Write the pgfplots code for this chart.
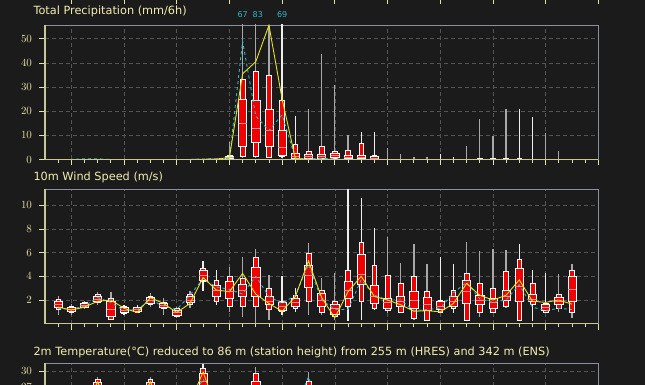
\documentclass[border=0pt]{standalone}
\usepackage{fontspec}
\setmainfont{DejaVu Sans}
\usepackage{pgfplots}
\pgfplotsset{compat=1.18}
\usepgfplotslibrary{statistics}

\definecolor{bg}{HTML}{1B1B1B}
\definecolor{titlecol}{HTML}{F2EEB0}
\definecolor{ticklbl}{HTML}{E6E2A6}
\definecolor{axleft}{HTML}{C8C896}
\definecolor{framecol}{HTML}{8A90A0}
\definecolor{gridcol}{HTML}{555555}
\definecolor{hres}{HTML}{E8E020}
\definecolor{ctrl}{HTML}{30B8C8}
\definecolor{whg}{HTML}{A8A8A8}
\definecolor{whw}{HTML}{EEEEEE}
\definecolor{boxred}{HTML}{F00000}

% step, min, p10, p25, median, p75, p90, max, whisker colour
\newcommand\ebox[9]{%
 \addplot[draw=white, fill=boxred, boxplot prepared={draw direction=y, draw position=#1, lower whisker=#2, lower quartile=#3, median=#5, upper quartile=#7, upper whisker=#8, box extend=0.36, whisker extend=0, every whisker/.style={draw=#9, line width=1.3pt}, every box/.style={draw=white, fill=boxred, line width=0.6pt}, every median/.style={draw=none}}] coordinates {};
 \addplot[draw=white, fill=boxred, boxplot prepared={draw direction=y, draw position=#1, lower whisker=#4, lower quartile=#4, median=#5, upper quartile=#6, upper whisker=#6, box extend=0.62, whisker extend=0, every whisker/.style={draw=none}, every box/.style={draw=white, fill=boxred, line width=0.6pt}, every median/.style={draw=white!55!boxred, line width=0.5pt}}] coordinates {};
}

\pgfplotsset{mp/.style={
  anchor=south west, width=553.3pt, scale only axis, xmin=0, xmax=42,
  xtick={2,6,...,42}, minor xtick={1,...,41}, xticklabels={},
  tick pos=left, tick align=outside,
  major tick length=6pt, minor tick length=3.5pt,
  tick style={ticklbl, line width=0.8pt},
  xmajorgrids, ymajorgrids,
  major grid style={gridcol, dash pattern=on 4pt off 3pt, line width=0.6pt},
  axis line style={framecol, line width=0.8pt},
  ticklabel style={font=\fontsize{11}{13}\selectfont, text=ticklbl},
  yticklabel style={xshift=-3.5pt},
  clip mode=individual,
  after end axis/.code={\draw[axleft, line width=1.3pt] (rel axis cs:0,1) -- (rel axis cs:0,0) -- (rel axis cs:1,0);}
}}

\begin{document}
\begin{tikzpicture}
\useasboundingbox (0pt,0pt) rectangle (645pt,385pt);
\fill[bg] (0pt,0pt) rectangle (645pt,385pt);

% ---------------- Precipitation ----------------
\node[anchor=base west, text=titlecol, font=\fontsize{11.3}{13}\selectfont] at (30pt,370pt) {Total Precipitation (mm/6h)};
\begin{axis}[mp, at={(45pt,225.5pt)}, height=134.5pt, ymin=0, ymax=55.7, ytick={0,10,...,50}]
\ebox{14}{0}{0.2}{0.4}{0.8}{1.5}{1.9}{7.4}{whg}
\ebox{15}{0.5}{1.2}{5.6}{15}{25}{33.3}{67}{whg}
\ebox{16}{0.8}{1.5}{7}{13}{24.7}{36.4}{83}{whg}
\ebox{17}{0.5}{0.9}{5.3}{12}{20.8}{35}{55.5}{whg}
\ebox{18}{0.5}{1.5}{1.9}{5}{12.2}{24.7}{69}{whw}
\ebox{19}{0}{0.3}{0.7}{1.2}{2.4}{6.4}{18}{whw}
\ebox{20}{0}{0.2}{0.5}{1.2}{2.1}{3.2}{20.8}{whg}
\ebox{21}{0}{0.3}{0.6}{1.2}{2.3}{5.3}{43.6}{whg}
\ebox{22}{0}{0.4}{0.9}{1.6}{2.6}{3.2}{30.9}{whg}
\ebox{23}{0}{0.2}{0.4}{0.9}{1.9}{3.9}{10.2}{whg}
\ebox{24}{0}{0.1}{0.3}{0.8}{1.6}{6.7}{11.5}{whw}
\ebox{25}{0}{0}{0.3}{0.6}{1.2}{1.9}{11.5}{whw}
\ebox{26}{0}{0}{0}{0}{0}{0.2}{4.6}{whg}
\ebox{27}{0}{0}{0}{0}{0}{0.1}{2.3}{whg}
\ebox{28}{0}{0}{0}{0}{0}{0.1}{0.9}{whg}
\ebox{29}{0}{0}{0}{0}{0}{0.1}{1.2}{whg}
\ebox{30}{0}{0}{0}{0}{0}{0.1}{2.3}{whw}
\ebox{31}{0}{0}{0}{0}{0}{0.1}{1.2}{whw}
\ebox{32}{0}{0}{0}{0}{0}{0.2}{5.6}{whg}
\ebox{33}{0}{0}{0}{0}{0}{0.3}{16.7}{whg}
\ebox{34}{0}{0}{0}{0}{0}{0.3}{9.8}{whg}
\ebox{35}{0}{0}{0}{0}{0}{0.3}{21}{whg}
\ebox{36}{0}{0}{0}{0}{0}{0.3}{21}{whw}
\ebox{37}{0}{0}{0}{0}{0}{0.2}{17.5}{whw}
\ebox{38}{0}{0}{0}{0}{0}{0.2}{11.1}{whg}
\ebox{39}{0}{0}{0}{0}{0}{0.1}{3.7}{whg}
\addplot[ctrl, dashed, line width=0.9pt] coordinates {(1,0)(2,0)(3,0.3)(4,0.3)(5,0)(6,0)(7,0)(8,0)(9,0)(10,0)(11,0)(12,0.2)(13,0.3)(14,0.5)(15,49)(16,18)(17,12)(18,18.5)(19,0.5)(20,0.2)(21,0.5)(22,0.3)(23,0)(24,0)(25,0)(26,0)(27,0)(28,0)(29,0)(30,0)(31,0)(32,0)(33,0)(34,0)(35,0)(36,0)(37,0)(38,0)(39,0)(40,0)};
\addplot[hres, line width=0.9pt] coordinates {(1,0)(2,0)(3,0)(4,0)(5,0)(6,0)(7,0)(8,0)(9,0)(10,0)(11,0)(12,0.1)(13,0.2)(14,0.8)(15,35.5)(16,40.5)(17,55.6)(18,25)(19,0.5)(20,0)(21,0.1)(22,0)(23,0)(24,0)(25,0)(26,0)(27,0)(28,0)(29,0)(30,0)(31,0)(32,0)(33,0)(34,0)(35,0)(36,0)(37,0)(38,0)(39,0)(40,0)};
\node[anchor=base, text=ctrl, font=\fontsize{8}{9}\selectfont] at (axis cs:15,58.7) {67};
\node[anchor=base, text=ctrl, font=\fontsize{8}{9}\selectfont] at (axis cs:16.15,58.7) {83};
\node[anchor=base, text=ctrl, font=\fontsize{8}{9}\selectfont] at (axis cs:18,58.7) {69};
\end{axis}

% ---------------- Wind ----------------
\node[anchor=base west, text=titlecol, font=\fontsize{11.3}{13}\selectfont] at (30pt,204pt) {10m Wind Speed (m/s)};
\begin{axis}[mp, at={(45pt,61.3pt)}, height=134.7pt, ymin=0, ymax=11.37, ytick={2,4,...,10}]
\ebox{1}{0.75}{1.2}{1.4}{1.6}{1.85}{2.1}{2.3}{whg}
\ebox{2}{0.75}{1.0}{1.05}{1.25}{1.4}{1.45}{1.7}{whg}
\ebox{3}{1.2}{1.35}{1.4}{1.55}{1.75}{1.8}{1.95}{whg}
\ebox{4}{1.6}{1.8}{1.9}{2.1}{2.3}{2.45}{2.7}{whg}
\ebox{5}{0.3}{0.4}{0.6}{1.2}{1.85}{2.15}{2.7}{whg}
\ebox{6}{0.75}{0.85}{0.95}{1.15}{1.35}{1.45}{1.6}{whw}
\ebox{7}{0.9}{1.0}{1.05}{1.2}{1.35}{1.4}{1.6}{whw}
\ebox{8}{1.45}{1.6}{1.75}{2.0}{2.2}{2.35}{2.6}{whg}
\ebox{9}{0.75}{1.3}{1.4}{1.55}{1.7}{1.8}{2.2}{whg}
\ebox{10}{0.45}{0.6}{0.75}{0.95}{1.15}{1.3}{1.45}{whg}
\ebox{11}{1.3}{1.65}{1.8}{2.0}{2.3}{2.45}{2.75}{whg}
\ebox{12}{2.75}{3.55}{3.7}{4.1}{4.5}{4.7}{5.3}{whw}
\ebox{13}{1.6}{1.85}{2.3}{2.8}{3.25}{3.7}{4.5}{whw}
\ebox{14}{1.0}{1.45}{2.15}{2.7}{3.55}{4.0}{4.8}{whg}
\ebox{15}{0.6}{1.45}{2.3}{2.8}{3.3}{3.8}{5.6}{whg}
\ebox{16}{0.1}{1.5}{2.3}{3.9}{4.8}{5.6}{6.3}{whg}
\ebox{17}{0.3}{1.2}{1.6}{1.9}{2.3}{3.0}{4.1}{whg}
\ebox{18}{0.75}{1.05}{1.15}{1.5}{1.8}{1.9}{4.0}{whw}
\ebox{19}{1.0}{1.3}{1.5}{1.8}{2.15}{2.4}{3.0}{whw}
\ebox{20}{0.75}{1.85}{3.1}{4.1}{4.95}{5.95}{6.8}{whg}
\ebox{21}{0.7}{1.0}{1.45}{2.0}{2.55}{2.85}{3.85}{whg}
\ebox{22}{0.3}{0.6}{0.8}{1.3}{1.6}{1.9}{4.25}{whg}
\ebox{23}{0.2}{1.45}{2.15}{2.8}{3.55}{4.5}{11.4}{whw}
\ebox{24}{0.3}{1.85}{3.3}{4.2}{5.85}{6.9}{10.6}{whw}
\ebox{25}{1.15}{1.3}{1.7}{2.3}{3.25}{4.9}{8.05}{whw}
\ebox{26}{0.9}{1.15}{1.3}{1.8}{2.15}{4.1}{7.3}{whg}
\ebox{27}{0.9}{1.0}{1.45}{1.9}{2.3}{3.4}{5.1}{whg}
\ebox{28}{0.3}{0.45}{1.3}{2.0}{2.7}{4.0}{6.7}{whg}
\ebox{29}{0.2}{0.3}{1.15}{1.6}{2.2}{2.7}{5.0}{whg}
\ebox{30}{0.9}{1.0}{1.2}{1.5}{1.85}{2.0}{5.6}{whw}
\ebox{31}{0.9}{1.3}{1.45}{1.9}{2.3}{2.85}{5.0}{whw}
\ebox{32}{0.2}{0.3}{1.7}{2.7}{3.7}{4.25}{6.9}{whg}
\ebox{33}{0.6}{1.0}{1.6}{2.0}{2.4}{3.4}{6.1}{whg}
\ebox{34}{0.9}{1.0}{1.3}{1.8}{2.15}{3.0}{6.3}{whg}
\ebox{35}{1.3}{1.45}{2.0}{2.3}{2.85}{4.4}{6.2}{whg}
\ebox{36}{0.2}{0.3}{1.85}{3.2}{4.65}{5.4}{6.7}{whw}
\ebox{37}{0.2}{1.6}{1.85}{2.1}{2.5}{3.4}{4.5}{whw}
\ebox{38}{1.0}{1.0}{1.15}{1.4}{1.6}{1.7}{4.3}{whw}
\ebox{39}{1.0}{1.3}{1.6}{1.9}{2.2}{2.5}{4.2}{whg}
\ebox{40}{0.45}{1.0}{1.85}{2.9}{4.0}{4.5}{5.0}{whg}
\addplot[ctrl, dashed, line width=0.9pt] coordinates {(1,1.3)(2,1.2)(3,1.5)(4,2.2)(5,1.8)(6,1.1)(7,1.2)(8,2.0)(9,1.5)(10,1.2)(11,2.4)(12,3.8)(13,3.1)(14,2.9)(15,2.5)(16,4.0)(17,2.3)(18,1.7)(19,2.4)(20,5.0)(21,2.0)(22,1.2)(23,1.2)(24,3.7)(25,2.4)(26,2.0)(27,2.0)(28,1.1)(29,1.2)(30,1.3)(31,2.6)(32,3.5)(33,2.1)(34,1.8)(35,2.0)(36,3.3)(37,1.4)(38,1.1)(39,1.3)(40,1.2)};
\addplot[hres, line width=0.9pt] coordinates {(1,1.4)(2,1.15)(3,1.4)(4,1.9)(5,2.0)(6,1.3)(7,0.95)(8,2.2)(9,1.7)(10,0.95)(11,1.7)(12,3.9)(13,2.85)(14,2.7)(15,4.25)(16,2.5)(17,1.7)(18,1.05)(19,2.28)(20,5.3)(21,2.2)(22,0.5)(23,2.7)(24,4.0)(25,2.3)(26,2.0)(27,1.6)(28,1.05)(29,1.1)(30,1.0)(31,1.7)(32,3.4)(33,2.4)(34,2.0)(35,2.4)(36,3.7)(37,1.9)(38,1.8)(39,2.0)(40,1.65)};
\end{axis}

% ---------------- Temperature (cut off) ----------------
\node[anchor=base west, text=titlecol, font=\fontsize{11.3}{13}\selectfont] at (30pt,29pt) {2m Temperature(°C) reduced to 86 m (station height) from 255 m (HRES) and 342 m (ENS)};
\begin{axis}[mp, at={(45pt,-112.7pt)}, height=134.7pt, ymin=6.2, ymax=31.5, ytick={9,12,...,30}]
\ebox{4}{23.5}{24.5}{25.5}{26.8}{27.8}{28.4}{28.9}{whg}
\ebox{8}{23.5}{24.5}{25.5}{26.8}{27.8}{28.4}{28.9}{whg}
\ebox{12}{24}{25.5}{26.5}{28}{29.5}{30.5}{31.4}{whw}
\ebox{16}{23}{24}{25}{26.5}{28}{29.5}{30.8}{whg}
\ebox{20}{22}{23.5}{24.5}{25.5}{26.8}{28}{29.8}{whg}
\addplot[ctrl, dashed, line width=0.9pt] coordinates {(1,21)(2,19)(3,23)(4,27.8)(5,22)(6,19)(7,23)(8,27.8)(9,22)(10,20)(11,24)(12,28.5)(13,23)(14,20)(15,23)(16,27)(17,22)(18,19)(19,23)(20,28.9)(21,21)(22,18)(23,21)(24,24.5)(25,20)(26,17)(27,20)(28,24)(29,20)(30,17)(31,20)(32,24)(33,20)(34,17)(35,20)(36,24)(37,20)(38,17)(39,20)(40,24)};
\addplot[hres, line width=0.9pt] coordinates {(1,21)(2,19)(3,23)(4,28.0)(5,22)(6,19)(7,23)(8,28.0)(9,22)(10,20)(11,24)(12,29.8)(13,23)(14,20)(15,23)(16,26.5)(17,22)(18,19)(19,22)(20,26.5)(21,21)(22,18)(23,21)(24,24.5)(25,20)(26,17)(27,20)(28,24)(29,20)(30,17)(31,20)(32,24)(33,20)(34,17)(35,20)(36,24)(37,20)(38,17)(39,20)(40,24)};
\end{axis}

% tick marks of the panel above, cut off by the top edge
\foreach \t in {2,6,...,42} {\draw[ticklbl, line width=0.8pt] ({45pt+13.174pt*\t},385.5pt) -- ++(0pt,-5pt);}
\end{tikzpicture}
\end{document}
